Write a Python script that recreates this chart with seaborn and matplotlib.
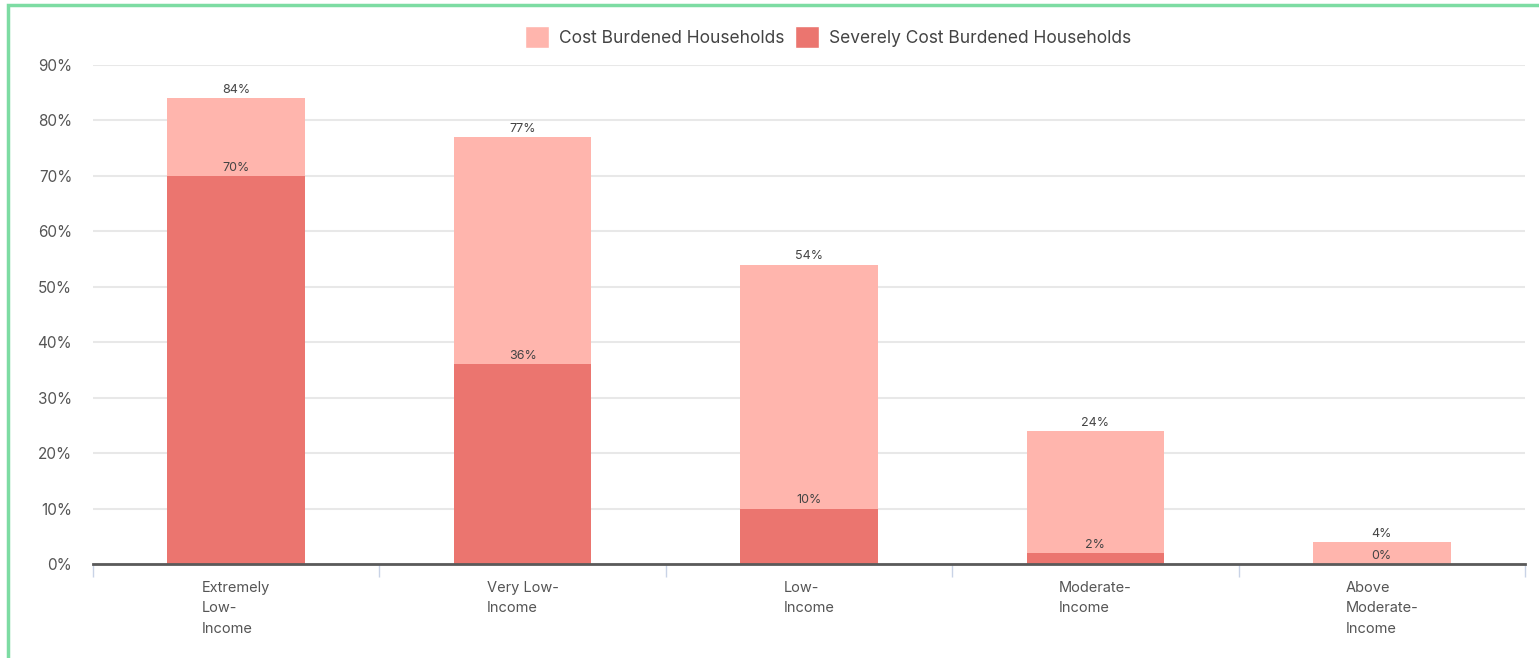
import numpy as np
import pandas as pd
import matplotlib
matplotlib.use("Agg")
import matplotlib.pyplot as plt
import seaborn as sns
from matplotlib.patches import Patch, Rectangle

# Data
categories = ["Extremely\nLow-\nIncome", "Very Low-\nIncome", "Low-\nIncome",
              "Moderate-\nIncome", "Above\nModerate-\nIncome"]
cost_burdened = [84, 77, 54, 24, 4]
severely_burdened = [70, 36, 10, 2, 0]

LIGHT = "#FFB5AD"
DARK = "#EB756F"
TEXT = "#555555"

sns.set_theme(style="white")
plt.rcParams["font.family"] = ["Inter", "DejaVu Sans"]

df = pd.DataFrame({"category": categories,
                   "cost": cost_burdened,
                   "severe": severely_burdened})

fig = plt.figure(figsize=(15.39, 6.58), dpi=100)
ax = fig.add_axes([93 / 1539, 1 - 564 / 658, (1525 - 93) / 1539, (564 - 65) / 658])

sns.barplot(data=df, x="category", y="cost", color=LIGHT, width=0.48,
            saturation=1, linewidth=0, ax=ax, zorder=2)
sns.barplot(data=df, x="category", y="severe", color=DARK, width=0.48,
            saturation=1, linewidth=0, ax=ax, zorder=3)

for i, (c, s) in enumerate(zip(cost_burdened, severely_burdened)):
    ax.text(i, c + 0.4, f"{c}%", ha="center", va="bottom", fontsize=9,
            color="#444444", zorder=5)
    ax.text(i, s + 0.4, f"{s}%", ha="center", va="bottom", fontsize=9,
            color="#444444", zorder=5)

ax.set_xlim(-0.5, 4.5)
ax.set_ylim(0, 90)
ax.set_yticks(np.arange(0, 91, 10))
ax.set_yticklabels([f"{v}%" for v in range(0, 91, 10)], fontsize=11, color=TEXT)
ax.yaxis.grid(True, color="#e8e8e8", linewidth=1.5, zorder=0)
ax.set_axisbelow(True)
ax.set_xlabel("")
ax.set_ylabel("")
ax.tick_params(axis="y", length=0, pad=15)
ax.tick_params(axis="x", which="major", length=0, pad=12)
ax.set_xticks(np.arange(-0.5, 4.6, 1), minor=True)
ax.tick_params(axis="x", which="minor", bottom=True, length=9, width=1,
               color="#c9d3e6", direction="out")
for lbl in ax.get_xticklabels():
    lbl.set_multialignment("left")
    lbl.set_fontsize(10.5)
    lbl.set_color(TEXT)
    lbl.set_linespacing(1.6)

for side in ["top", "right", "left"]:
    ax.spines[side].set_visible(False)
ax.spines["bottom"].set_color("#5a5a5a")
ax.spines["bottom"].set_linewidth(2)
ax.spines["bottom"].set_zorder(6)

handles = [Patch(facecolor=LIGHT, label="Cost Burdened Households"),
           Patch(facecolor=DARK, label="Severely Cost Burdened Households")]
fig.legend(handles=handles, loc="center", bbox_to_anchor=(0.538, 1 - 37 / 658),
           ncol=2, frameon=False, fontsize=12.5, handlelength=1.4, handleheight=1.6,
           handletextpad=0.55, columnspacing=0.6, labelcolor="#444444")

# green frame
fig.patches.append(Rectangle((7.5 / 1539, -0.1), 1.2, 1.1 - 5.5 / 658,
                             transform=fig.transFigure, fill=False,
                             edgecolor="#7ddca3", linewidth=2.5))

fig.savefig("out.png", dpi=100)
